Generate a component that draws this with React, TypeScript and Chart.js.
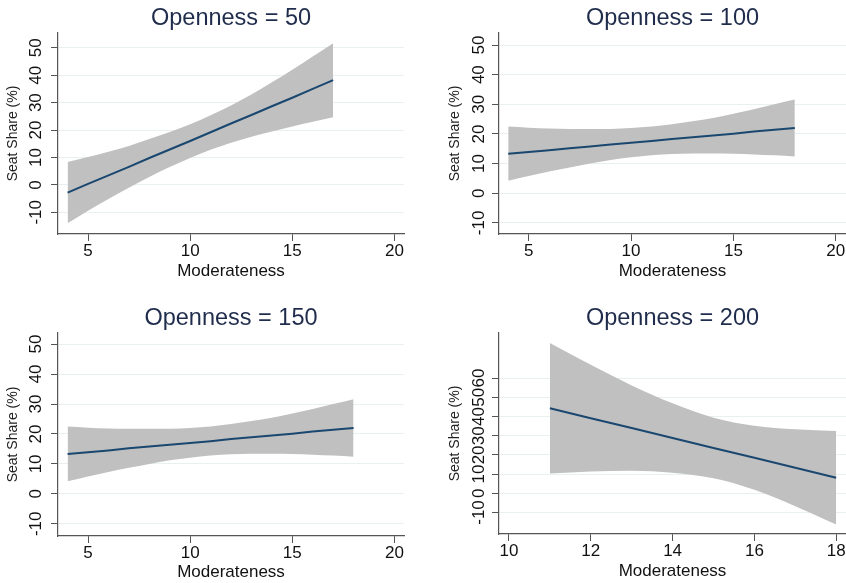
import React, { useEffect, useRef } from "react";
import { Chart, registerables } from "chart.js";

Chart.register(...registerables);

// ---------- data ----------
const titles = ["Openness = 50", "Openness = 100", "Openness = 150", "Openness = 200"];
const xAxisTitle = "Moderateness";
const yAxisTitle = "Seat Share (%)";

// Openness = 50
const p1X = [4, 5, 6, 7, 8, 9, 10, 11, 12, 13, 14, 15, 16, 17];
const p1Fit = [-2.8, 0.4, 3.5, 6.6, 9.8, 12.9, 16.0, 19.2, 22.4, 25.5, 28.7, 31.8, 35.0, 38.2];
const p1Upper = [8.4, 10.2, 12.1, 14.2, 16.7, 19.3, 22.1, 25.4, 29.0, 33.0, 37.4, 42.0, 46.8, 51.7];
const p1Lower = [-14.0, -9.4, -5.1, -1.0, 2.9, 6.5, 9.8, 12.8, 15.4, 17.6, 19.5, 21.3, 23.0, 24.7];

// Openness = 100 and Openness = 150 (identical estimates)
const p2X = [4, 5, 6, 7, 8, 9, 10, 11, 12, 13, 14, 15, 16, 17, 18];
const p2Fit = [13.3, 13.9, 14.5, 15.2, 15.8, 16.4, 17.0, 17.6, 18.3, 18.9, 19.5, 20.1, 20.8, 21.4, 22.0];
const p2Upper = [22.5, 22.1, 21.8, 21.7, 21.7, 21.7, 22.0, 22.5, 23.3, 24.3, 25.4, 26.8, 28.3, 30.0, 31.6];
const p2Lower = [4.2, 5.8, 7.3, 8.7, 10.0, 11.2, 12.1, 12.8, 13.2, 13.4, 13.4, 13.3, 13.1, 12.8, 12.4];

// Openness = 200
const p4X = [11, 12, 13, 14, 15, 16, 17, 18];
const p4Fit = [44.3, 39.1, 34.0, 28.8, 23.6, 18.5, 13.3, 8.1];
const p4Upper = [78.3, 66.9, 56.2, 46.9, 39.4, 35.2, 33.3, 32.4];
const p4Lower = [10.3, 11.4, 11.8, 10.7, 7.8, 1.8, -6.7, -16.3];

const xTicksA = [5, 10, 15, 20];
const xTicksB = [10, 12, 14, 16, 18];
const yTicksA = [-10, 0, 10, 20, 30, 40, 50];
const yTicksB = [-10, 0, 10, 20, 30, 40, 50, 60];

// ---------- style ----------
const FONT = "'Liberation Sans', Arial, Helvetica, sans-serif";
const LINE = "#1a476f";
const BAND = "rgb(192,192,192)";
const AXIS = "#555555";
const GRID = "#e9f0f2";
const TEXT = "#111111";
const TITLE = "#1f2c4c";
const TICK_SIZE = 17;

type Panel = {
  title: string;
  xs: number[];
  fit: number[];
  upper: number[];
  lower: number[];
  xRange: [number, number];
  yRange: [number, number];
  xTicks: number[];
  yTicks: number[];
  pos: { left: number; top: number; w: number; h: number };
  area: { left: number; right: number; top: number; bottom: number };
  padL: number;
  yLabelGap: number;
  titleBase: number;
};

const panels: Panel[] = [
  {
    title: titles[0], xs: p1X, fit: p1Fit, upper: p1Upper, lower: p1Lower,
    xRange: [3.53, 20.47], yRange: [-17.9, 55.4], xTicks: xTicksA, yTicks: yTicksA,
    pos: { left: 0, top: 0, w: 423, h: 290 },
    area: { left: 58, right: 404, top: 33, bottom: 234 },
    padL: 0, yLabelGap: 22, titleBase: 25,
  },
  {
    title: titles[1], xs: p2X, fit: p2Fit, upper: p2Upper, lower: p2Lower,
    xRange: [3.55, 20.5], yRange: [-13.75, 54.05], xTicks: xTicksA, yTicks: yTicksA,
    pos: { left: 423, top: 0, w: 443, h: 290 },
    area: { left: 76, right: 423, top: 33, bottom: 234 },
    padL: 19, yLabelGap: 20, titleBase: 25,
  },
  {
    title: titles[2], xs: p2X, fit: p2Fit, upper: p2Upper, lower: p2Lower,
    xRange: [3.53, 20.47], yRange: [-14.06, 53.7], xTicks: xTicksA, yTicks: yTicksA,
    pos: { left: 0, top: 290, w: 423, h: 293 },
    area: { left: 58, right: 404, top: 43, bottom: 246 },
    padL: 0, yLabelGap: 22, titleBase: 35,
  },
  {
    title: titles[3], xs: p4X, fit: p4Fit, upper: p4Upper, lower: p4Lower,
    xRange: [9.756, 18.24], yRange: [-21.2, 83.5], xTicks: xTicksB, yTicks: yTicksB,
    pos: { left: 423, top: 290, w: 443, h: 293 },
    area: { left: 76, right: 423, top: 43, bottom: 244 },
    padL: 19, yLabelGap: 20, titleBase: 35,
  },
];

const toPts = (xs: number[], ys: number[]) => xs.map((x, i) => ({ x, y: ys[i] }));

function PanelChart({ cfg }: { cfg: Panel }) {
  const ref = useRef<HTMLCanvasElement | null>(null);

  useEffect(() => {
    if (!ref.current) return;
    const { pos, area } = cfg;
    const xTitleCenter = area.bottom + 37.4;
    const xTitleLH = TICK_SIZE * 1.2;
    const xTitlePadBottom = Math.max(0, pos.h - xTitleLH / 2 - xTitleCenter);

    const textPlugin = {
      id: "panelText",
      afterDraw(chart: any) {
        const ctx = chart.ctx as CanvasRenderingContext2D;
        const ca = chart.chartArea;
        const ys = chart.scales.y;
        ctx.save();
        // title
        ctx.fillStyle = TITLE;
        ctx.font = `23.5px ${FONT}`;
        ctx.textAlign = "center";
        ctx.textBaseline = "alphabetic";
        ctx.fillText(cfg.title, (ca.left + ca.right) / 2, cfg.titleBase);
        // rotated y tick labels
        ctx.fillStyle = TEXT;
        ctx.font = `${TICK_SIZE}px ${FONT}`;
        ctx.textBaseline = "middle";
        ctx.textAlign = "center";
        for (const v of cfg.yTicks) {
          const py = ys.getPixelForValue(v);
          ctx.save();
          ctx.translate(ca.left - cfg.yLabelGap, py);
          ctx.rotate(-Math.PI / 2);
          ctx.fillText(String(v), 0, 0);
          ctx.restore();
        }
        ctx.restore();
      },
    };

    const chart = new Chart(ref.current, {
      type: "line",
      data: {
        datasets: [
          {
            data: toPts(cfg.xs, cfg.fit),
            borderColor: LINE,
            borderWidth: 2,
            pointRadius: 0,
            fill: false,
            tension: 0,
          },
          {
            data: toPts(cfg.xs, cfg.upper),
            borderColor: "rgba(0,0,0,0)",
            borderWidth: 0,
            pointRadius: 0,
            fill: false,
            cubicInterpolationMode: "monotone",
          },
          {
            data: toPts(cfg.xs, cfg.lower),
            borderColor: "rgba(0,0,0,0)",
            borderWidth: 0,
            pointRadius: 0,
            fill: "-1",
            backgroundColor: BAND,
            cubicInterpolationMode: "monotone",
          },
        ],
      } as any,
      options: {
        responsive: false,
        maintainAspectRatio: false,
        animation: false,
        devicePixelRatio: 1,
        events: [],
        layout: {
          padding: { left: cfg.padL, right: pos.w - area.right, top: area.top, bottom: 0 },
        },
        plugins: {
          legend: { display: false },
          tooltip: { enabled: false },
          title: { display: false },
        },
        scales: {
          x: {
            type: "linear",
            min: cfg.xRange[0],
            max: cfg.xRange[1],
            afterBuildTicks: (s: any) => {
              s.ticks = cfg.xTicks.map((v) => ({ value: v }));
            },
            afterFit: (s: any) => {
              s.height = pos.h - area.bottom;
            },
            grid: {
              drawOnChartArea: false,
              drawTicks: true,
              tickLength: 7,
              tickColor: AXIS,
              tickWidth: 1,
            },
            border: { display: true, color: AXIS, width: 1.2 },
            ticks: {
              font: { family: FONT, size: TICK_SIZE },
              color: TEXT,
              padding: 0,
              maxRotation: 0,
              minRotation: 0,
              autoSkip: false,
            },
            title: {
              display: true,
              text: xAxisTitle,
              font: { family: FONT, size: TICK_SIZE },
              color: TEXT,
              padding: { top: 0, bottom: xTitlePadBottom },
            },
          },
          y: {
            type: "linear",
            min: cfg.yRange[0],
            max: cfg.yRange[1],
            afterBuildTicks: (s: any) => {
              s.ticks = cfg.yTicks.map((v) => ({ value: v }));
            },
            afterFit: (s: any) => {
              s.width = area.left - cfg.padL;
            },
            grid: {
              color: GRID,
              lineWidth: 1,
              drawTicks: true,
              tickLength: 7,
              tickColor: AXIS,
              tickWidth: 1,
            },
            border: { display: true, color: AXIS, width: 1.2 },
            ticks: { display: false },
            title: {
              display: true,
              text: yAxisTitle,
              font: { family: FONT, size: 14 },
              color: "#222222",
              padding: { top: 4.5, bottom: 0 },
            },
          },
        },
      } as any,
      plugins: [textPlugin],
    });
    return () => chart.destroy();
  }, [cfg]);

  return (
    <div style={{ position: "absolute", left: cfg.pos.left, top: cfg.pos.top, width: cfg.pos.w, height: cfg.pos.h }}>
      <canvas ref={ref} width={cfg.pos.w} height={cfg.pos.h} style={{ display: "block", width: cfg.pos.w, height: cfg.pos.h }} />
    </div>
  );
}

export default function App() {
  return (
    <div
      style={{
        position: "absolute",
        left: 0,
        top: 0,
        width: 846,
        height: 583,
        overflow: "hidden",
        background: "#ffffff",
      }}
    >
      {panels.map((p, i) => (
        <PanelChart key={i} cfg={p} />
      ))}
    </div>
  );
}
